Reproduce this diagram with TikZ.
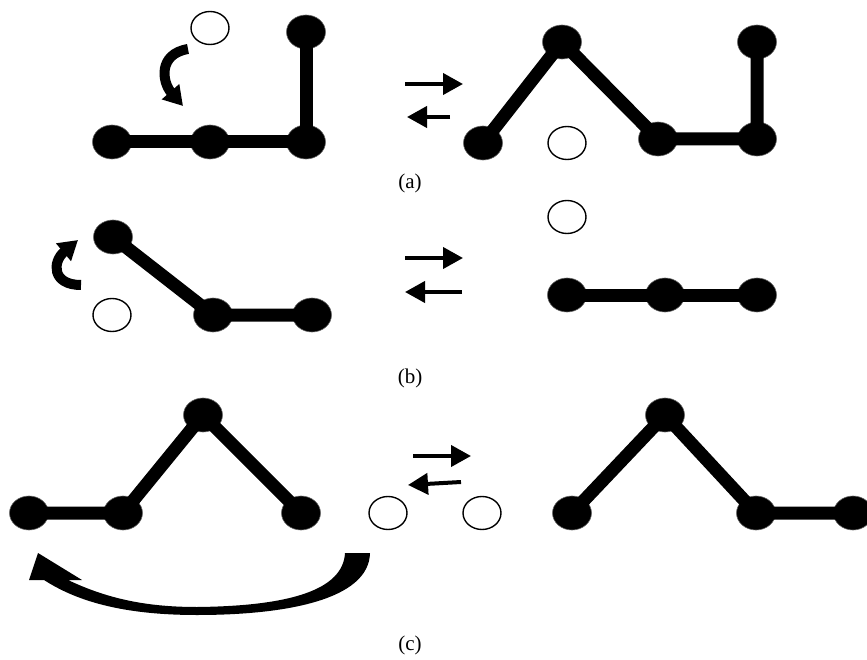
\documentclass[tikz,border=0pt]{standalone}
\usepackage{fontspec}
\setmainfont{Liberation Serif}
\usetikzlibrary{shapes.geometric,arrows.meta}
\begin{document}
\begin{tikzpicture}[x=1pt,y=-1pt,
 atom/.style={ellipse,fill=black,draw=black!60,line width=0.6pt,minimum width=39pt,minimum height=34pt,inner sep=0pt},
 hole/.style={ellipse,fill=white,draw=black,line width=1.4pt,minimum width=38pt,minimum height=33pt,inner sep=0pt},
 bond/.style={line width=13pt},
 eqarrow/.style={line width=4pt,-{Triangle[length=20pt,width=21pt]}},
 turn/.style={line width=10pt,-{Triangle[length=19pt,width=22pt]}},
 lab/.style={font=\fontsize{21}{24}\selectfont}]
\useasboundingbox (0,0) rectangle (867,660);

% ---------- (a) ----------
\node[atom] (a1) at (112,142) {};
\node[atom] (a2) at (210,142) {};
\node[atom] (a3) at (306,142) {};
\node[atom] (a4) at (306,32) {};
\node[hole] (ah) at (210,28) {};
\draw[bond] (a1.center) -- (a2.center) -- (a3.center) -- (a4.center);
\coordinate (at1) at (188,49);
\coordinate (at2) at (183,106);
\draw[turn] (at1) .. controls (158,54) and (162,82) .. (at2);

\coordinate (ae1) at (405,84);
\coordinate (ae2) at (463,84);
\coordinate (ae3) at (450,117);
\coordinate (ae4) at (407,117);
\draw[eqarrow] (ae1) -- (ae2);
\draw[eqarrow] (ae3) -- (ae4);

\node[atom] (b1) at (483,143) {};
\node[atom] (b2) at (562,42) {};
\node[atom] (b3) at (658,139) {};
\node[atom] (b4) at (757,139) {};
\node[atom] (b5) at (757,42) {};
\node[hole] (bh) at (567,143) {};
\draw[bond] (b1.center) -- (b2.center) -- (b3.center) -- (b4.center) -- (b5.center);
\node[lab] (la) at (410,183) {(a)};

% ---------- (b) ----------
\node[atom] (c1) at (113,237) {};
\node[atom] (c2) at (213,315) {};
\node[atom] (c3) at (312,315) {};
\node[hole] (ch) at (112,315) {};
\draw[bond] (c1.center) -- (c2.center) -- (c3.center);
\coordinate (ct1) at (81,285);
\coordinate (ct2) at (78,240);
\draw[turn] (ct1) .. controls (52,285) and (52,262) .. (ct2);

\coordinate (be1) at (405,258);
\coordinate (be2) at (463,258);
\coordinate (be3) at (462,292);
\coordinate (be4) at (405,292);
\draw[eqarrow] (be1) -- (be2);
\draw[eqarrow] (be3) -- (be4);

\node[hole] (dh) at (567,217) {};
\node[atom] (d1) at (567,295) {};
\node[atom] (d2) at (665,295) {};
\node[atom] (d3) at (757,295) {};
\draw[bond] (d1.center) -- (d2.center) -- (d3.center);
\node[lab] (lb) at (410,378) {(b)};

% ---------- (c) ----------
\node[atom] (e1) at (29,513) {};
\node[atom] (e2) at (123,513) {};
\node[atom] (e3) at (203,415) {};
\node[atom] (e4) at (301,513) {};
\draw[bond] (e1.center) -- (e2.center) -- (e3.center) -- (e4.center);
\node[hole] (eh1) at (388,513) {};
\node[hole] (eh2) at (482,513) {};

\coordinate (ce1) at (413,456);
\coordinate (ce2) at (471,456);
\coordinate (ce3) at (461,482);
\coordinate (ce4) at (408,485);
\draw[eqarrow] (ce1) -- (ce2);
\draw[eqarrow] (ce3) -- (ce4);

\node[atom] (f1) at (572,513) {};
\node[atom] (f2) at (665,415) {};
\node[atom] (f3) at (756,513) {};
\node[atom] (f4) at (853,513) {};
\draw[bond] (f1.center) -- (f2.center) -- (f3.center) -- (f4.center);

\fill (345,553) -- (370,553)
  .. controls (369,600) and (285,615) .. (197,615)
  .. controls (120,615) and (75,600) .. (44,580)
  -- (29,580) -- (38,553) -- (82,580) -- (68,580)
  .. controls (110,600) and (150,607) .. (197,607)
  .. controls (290,606) and (343,590) .. (345,553) -- cycle;
\node[lab] (lc) at (410,645) {(c)};
\end{tikzpicture}
\end{document}
